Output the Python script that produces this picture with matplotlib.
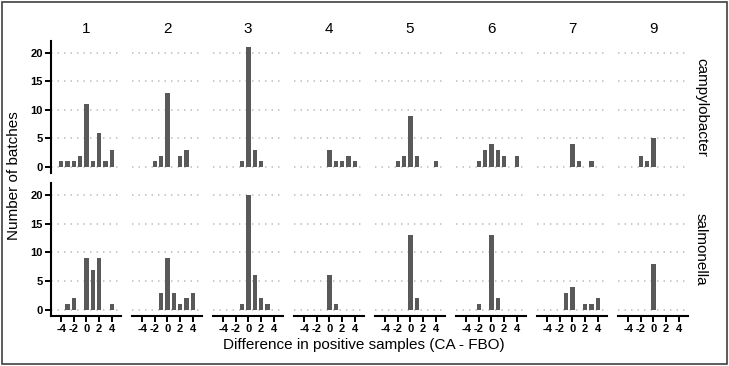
import matplotlib
matplotlib.use("Agg")
import matplotlib.pyplot as plt
from matplotlib.patches import Rectangle

plt.rcParams['font.family'] = ['Liberation Sans', 'DejaVu Sans']
plt.rcParams['axes.unicode_minus'] = False

# facet columns and the difference values on the x axis
groups = ['1', '2', '3', '4', '5', '6', '7', '9']
diffs = [-4, -3, -2, -1, 0, 1, 2, 3, 4]
rows = ['campylobacter', 'salmonella']

# number of batches per difference, one list per group
campylobacter = [
    [1, 1, 1, 2, 11, 1, 6, 1, 3],
    [0, 0, 1, 2, 13, 0, 2, 3, 0],
    [0, 0, 0, 1, 21, 3, 1, 0, 0],
    [0, 0, 0, 0, 3, 1, 1, 2, 1],
    [0, 0, 1, 2, 9, 2, 0, 0, 1],
    [0, 0, 1, 3, 4, 3, 2, 0, 2],
    [0, 0, 0, 0, 4, 1, 0, 1, 0],
    [0, 0, 2, 1, 5, 0, 0, 0, 0],
]
salmonella = [
    [0, 1, 2, 0, 9, 7, 9, 0, 1],
    [0, 0, 0, 3, 9, 3, 1, 2, 3],
    [0, 0, 0, 1, 20, 6, 2, 1, 0],
    [0, 0, 0, 0, 6, 1, 0, 0, 0],
    [0, 0, 0, 0, 13, 2, 0, 0, 0],
    [0, 0, 1, 0, 13, 2, 0, 0, 0],
    [0, 0, 0, 3, 4, 0, 1, 1, 2],
    [0, 0, 0, 0, 8, 0, 0, 0, 0],
]
yticks = [0, 5, 10, 15, 20]
xticks = [-4, -2, 0, 2, 4]

W, H = 729, 366
fig = plt.figure(figsize=(W / 100, H / 100), dpi=100)

left, right = 51, 688
pw = 70.0
gap = (right - left - 8 * pw) / 7
row_px = [(41, 173), (183, 316)]  # top, bottom in pixels

bar_color = '#595959'
for r, data in enumerate([campylobacter, salmonella]):
    top, bot = row_px[r]
    for c, g in enumerate(groups):
        x0 = left + c * (pw + gap)
        ax = fig.add_axes([x0 / W, 1 - bot / H, pw / W, (bot - top) / H])
        ax.bar(diffs, data[c], width=0.72, color=bar_color, zorder=3)
        for yv in yticks:
            ax.axhline(yv, color='#c4c4c4', lw=1.3, ls=(0, (0.8, 2.8)), zorder=1)
        ax.set_xlim(-5.6, 5.45)
        ax.set_ylim(-1.05, 22.05)
        for s in ['top', 'right']:
            ax.spines[s].set_visible(False)
        if c == 0:
            ax.spines['left'].set_linewidth(1.5)
            ax.set_yticks(yticks)
            ax.tick_params(axis='y', length=4, width=1.4, pad=2, labelsize=8)
            for lbl in ax.get_yticklabels():
                lbl.set_fontweight('bold')
        else:
            ax.spines['left'].set_visible(False)
            ax.set_yticks([])
        if r == 1:
            ax.spines['bottom'].set_linewidth(1.5)
            ax.set_xticks(xticks)
            ax.tick_params(axis='x', length=4, width=1.4, pad=2, labelsize=8)
            for lbl in ax.get_xticklabels():
                lbl.set_fontweight('bold')
        else:
            ax.spines['bottom'].set_visible(False)
            ax.set_xticks([])
            ax.set_title(g, fontsize=11, pad=6)
        ax.patch.set_alpha(0)

# row strip labels
for r, name in enumerate(rows):
    top, bot = row_px[r]
    fig.text(701 / W, 1 - (top + bot) / 2 / H, name, rotation=270,
             ha='center', va='center', fontsize=11)

fig.text(14 / W, 1 - 176 / H, 'Number of batches', rotation=90,
         ha='center', va='center', fontsize=11)
fig.text(364 / W, 1 - 345 / H,
         'Difference in positive samples (CA - FBO)',
         ha='center', va='center', fontsize=11)

# outer border
fig.patches.append(Rectangle((2 / W, 2 / H), (W - 4) / W, (H - 4) / H,
                             transform=fig.transFigure, fill=False,
                             edgecolor='#404040', lw=1.2))

fig.savefig('out.png', dpi=100)
